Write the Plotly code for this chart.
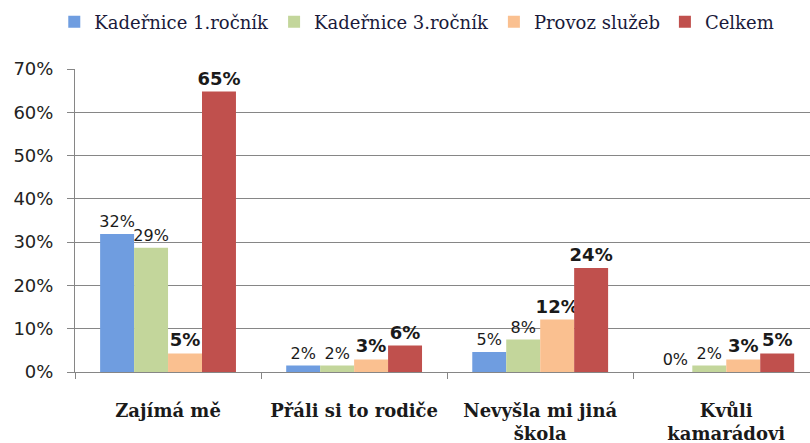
import plotly.graph_objects as go

categories = ["Zajímá mě", "Přáli si to rodiče", "Nevyšla mi jiná<br>škola", "Kvůli<br>kamarádovi"]

# bar heights (fractions)
kadernice_1 = [0.319, 0.015, 0.046, 0.0]
kadernice_3 = [0.287, 0.015, 0.075, 0.015]
provoz = [0.043, 0.029, 0.121, 0.029]
celkem = [0.648, 0.061, 0.240, 0.043]

# data labels as printed on the chart
labels_k1 = ["32%", "2%", "5%", "0%"]
labels_k3 = ["29%", "2%", "8%", "2%"]
labels_pr = ["5%", "3%", "12%", "3%"]
labels_ce = ["65%", "6%", "24%", "5%"]

series = [
    ("Kadeřnice 1.ročník", kadernice_1, labels_k1, "#6F9DE0", 16, "normal"),
    ("Kadeřnice 3.ročník", kadernice_3, labels_k3, "#C3D69B", 16, "normal"),
    ("Provoz služeb", provoz, labels_pr, "#FAC090", 18, "bold"),
    ("Celkem", celkem, labels_ce, "#C0504D", 18, "bold"),
]

fig = go.Figure()
for name, vals, labs, color, size, weight in series:
    fig.add_trace(
        go.Bar(
            x=categories,
            y=vals,
            name=name,
            marker={"color": color, "line": {"width": 0}},
            text=labs,
            textposition="outside",
            constraintext="none",
            cliponaxis=False,
            textfont={"family": "DejaVu Sans", "size": size, "color": "#1a1a1a", "weight": weight},
        )
    )

fig.update_layout(
    width=810,
    height=443,
    barmode="group",
    bargap=0.27,
    bargroupgap=0,
    plot_bgcolor="white",
    paper_bgcolor="white",
    margin={"l": 75, "r": 0, "t": 69, "b": 71, "autoexpand": False},
    font={"family": "DejaVu Sans", "size": 14, "color": "#222222"},
    legend={
        "orientation": "h",
        "x": 0.465,
        "xanchor": "center",
        "y": 1.155,
        "yanchor": "middle",
        "font": {"family": "DejaVu Serif", "size": 18, "color": "#1a1a3a"},
        "itemwidth": 30,
        "traceorder": "normal",
    },
)

fig.update_yaxes(
    range=[0, 0.7],
    dtick=0.1,
    tickformat=".0%",
    automargin=False,
    showgrid=True,
    gridcolor="#868686",
    gridwidth=1,
    showline=True,
    linecolor="#868686",
    ticks="outside",
    ticklen=7,
    tickcolor="#868686",
    ticklabelstandoff=10,
    zeroline=False,
    tickfont={"family": "DejaVu Sans", "size": 18, "color": "#222222"},
)

fig.update_xaxes(
    range=[-0.5, 3.45],
    automargin=False,
    showline=True,
    linecolor="#868686",
    ticks="outside",
    tickson="boundaries",
    ticklen=6,
    tickcolor="#868686",
    ticklabelstandoff=22,
    tickfont={"family": "DejaVu Serif", "size": 18, "color": "#1a1a1a", "weight": "bold"},
)

# drop the default page margin so the chart fills the window
fig.write_html(
    "out.html",
    config={"displayModeBar": False},
    post_script="document.body.style.margin = '0';",
)
